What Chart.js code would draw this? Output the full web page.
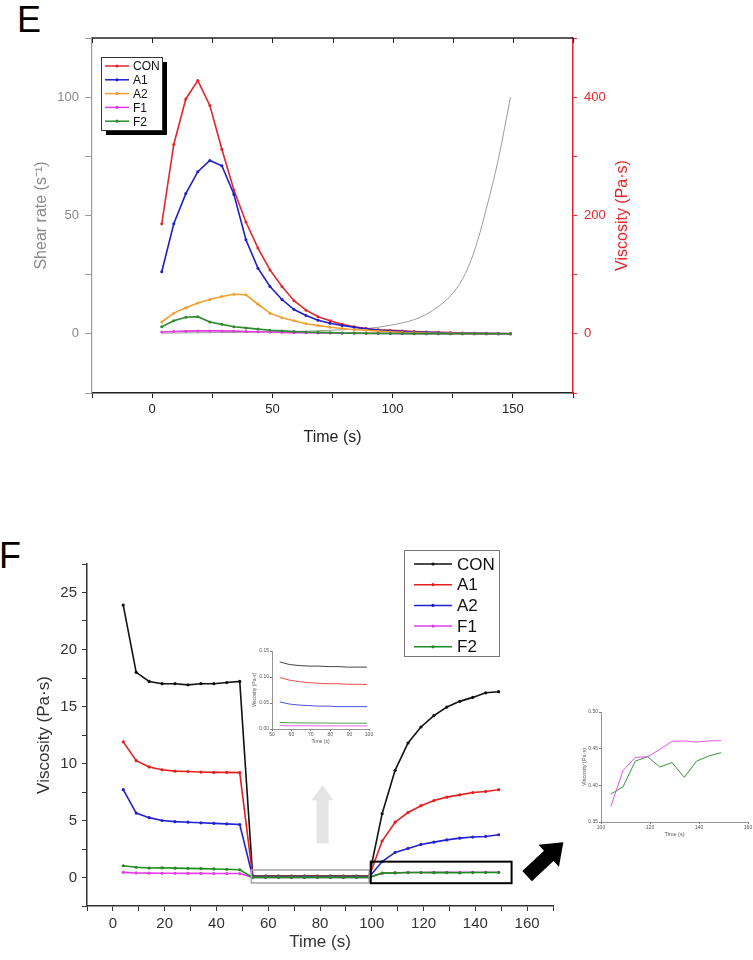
<!DOCTYPE html>
<html>
<head>
<meta charset="utf-8">
<script src="https://cdn.jsdelivr.net/npm/chart.js@4.4.1/dist/chart.umd.min.js"></script>
<style>
  html, body { margin: 0; padding: 0; background: #fff; overflow: hidden; }
  body { width: 753px; height: 960px; position: relative; font-family: "Liberation Sans", Arial, sans-serif; }
  canvas { position: absolute; }
  .panel { position: absolute; font-size: 36px; line-height: 1; color: #000; }
</style>
</head>
<body>
<div class="panel" style="left:17px;top:2px">E</div>
<div class="panel" style="left:-1px;top:538px">F</div>
<canvas id="chartE" width="753" height="460" style="left:0;top:0"></canvas>
<canvas id="chartF" width="753" height="460" style="left:0;top:500px"></canvas>
<canvas id="insetMid" width="140" height="110" style="left:245px;top:640px"></canvas>
<canvas id="insetRight" width="200" height="145" style="left:570px;top:700px"></canvas>
<script>
const seriesNames = ['CON', 'A1', 'A2', 'F1', 'F2'];

// --- panel E : viscosity (right axis) and shear rate (left axis) vs time
const eTime = [4, 9, 14, 19, 24, 29, 34, 39, 44, 49, 54, 59, 64, 69, 74, 79, 84, 89, 94, 99, 104, 109, 114, 119, 124, 129, 134, 139, 144, 149];
const eShearRate = [0.3, 0.35, 0.4, 0.45, 0.5, 0.55, 0.6, 0.65, 0.7, 0.8, 0.9, 1.0, 1.1, 1.3, 1.5, 1.7, 1.9, 2.2, 2.8, 3.6, 4.6, 6.0, 8.2, 11.5, 16, 23, 35, 53, 74, 100];
const eCON = [186, 320, 397, 428, 386, 312, 243, 189, 145, 108, 80, 56, 40, 29, 22, 16, 12, 9, 7, 6, 5, 4, 3, 2.5, 2, 1.5, 1, 0.8, 0.5, 0.3];
const eA1 = [105, 186, 237, 274, 293, 284, 236, 159, 111, 80, 58, 41, 31, 23, 18, 14, 11, 8.5, 6, 5, 4, 3, 2.5, 2, 1.5, 1, 0.8, 0.5, 0.3, 0.2];
const eA2 = [20, 35, 44, 52, 58, 63, 67, 66, 50, 35, 27, 22, 17, 14, 11, 9, 7, 6, 4.5, 3.5, 2.5, 2, 1.5, 1, 0.8, 0.5, 0.3, 0.2, 0.1, 0.1];
const eF1 = [3, 4, 4.5, 5, 5, 5, 4.5, 4, 3.5, 3, 2.5, 2, 2, 1.5, 1.5, 1, 1, 0.8, 0.6, 0.5, 0.4, 0.3, 0.3, 0.2, 0.2, 0.1, 0.1, 0.1, 0.1, 0.1];
const eF2 = [12, 22, 28, 29, 20, 16, 12, 10, 8, 6, 5, 4, 3, 2.5, 2, 1.5, 1.2, 1, 0.8, 0.6, 0.5, 0.4, 0.3, 0.3, 0.2, 0.2, 0.2, 0.1, 0.1, 0.1];
const eTimeLabels = [0, 50, 100, 150];
const eShearLabels = [0, 50, 100];
const eViscLabels = [0, 200, 400];

// --- panel F : viscosity in three intervals
const fTime = [4, 9, 14, 19, 24, 29, 34, 39, 44, 49, 54, 59, 64, 69, 74, 79, 84, 89, 94, 99, 104, 109, 114, 119, 124, 129, 134, 139, 144, 149];
const fCON = [23.9, 18.0, 17.2, 17.0, 17.0, 16.9, 17.0, 17.0, 17.1, 17.2, 0.129, 0.124, 0.122, 0.121, 0.121, 0.120, 0.120, 0.119, 0.119, 0.119, 5.6, 9.4, 11.8, 13.2, 14.2, 14.95, 15.45, 15.8, 16.2, 16.3];
const fA1 = [11.9, 10.25, 9.7, 9.45, 9.33, 9.3, 9.25, 9.22, 9.22, 9.2, 0.099, 0.094, 0.091, 0.089, 0.088, 0.087, 0.087, 0.086, 0.086, 0.0855, 3.2, 4.85, 5.7, 6.3, 6.75, 7.05, 7.25, 7.45, 7.55, 7.7];
const fA2 = [7.7, 5.65, 5.25, 5.0, 4.9, 4.85, 4.8, 4.75, 4.7, 4.65, 0.052, 0.048, 0.046, 0.045, 0.044, 0.044, 0.043, 0.043, 0.043, 0.043, 1.4, 2.2, 2.55, 2.9, 3.1, 3.3, 3.45, 3.55, 3.6, 3.75];
const fF1 = [0.45, 0.4, 0.38, 0.37, 0.37, 0.36, 0.36, 0.35, 0.35, 0.35, 0.0065, 0.0063, 0.0062, 0.0062, 0.0061, 0.0061, 0.006, 0.006, 0.006, 0.006, 0.371, 0.4205, 0.438, 0.439, 0.449, 0.460, 0.4605, 0.459, 0.4605, 0.461];
const fF2 = [1.03, 0.9, 0.83, 0.85, 0.82, 0.8, 0.78, 0.75, 0.72, 0.68, 0.0125, 0.012, 0.0118, 0.0116, 0.0115, 0.0114, 0.0113, 0.0112, 0.0112, 0.0111, 0.388, 0.398, 0.433, 0.439, 0.425, 0.431, 0.411, 0.433, 0.440, 0.4445];
const fTimeLabels = [0, 20, 40, 60, 80, 100, 120, 140, 160];
const fViscLabels = [0, 5, 10, 15, 20, 25];
const midTimeLabels = [50, 60, 70, 80, 90, 100];
const midViscLabels = [0, 0.05, 0.10, 0.15];
const rightTimeLabels = [100, 120, 140, 160];
const rightViscLabels = [0.35, 0.40, 0.45, 0.50];

// zoom boxes and arrows on panel F, in data units
const grayBox = { t0: 53.5, t1: 99, v0: 0.66, v1: -0.48 };
const blackBox = { t0: 99.6, t1: 154, v0: 1.39, v1: -0.5 };
const grayArrow = { t0: 81, v0: 3.0, t1: 81, v1: 8.1 };
const blackArrow = { t0: 160, v0: 0.13, t1: 174, v1: 3.1 };

const FONT = '"Liberation Sans", Arial, sans-serif';
Chart.defaults.font.family = FONT;
Chart.defaults.animation = false;

const eColors = { CON: '#e3262b', A1: '#1f1fc8', A2: '#f0a030', F1: '#e03ce0', F2: '#2e8b2e' };
const fColors = { CON: '#111111', A1: '#e4201f', A2: '#2222d0', F1: '#e23fe6', F2: '#1e8c1e' };
const eVisc = { CON: eCON, A1: eA1, A2: eA2, F1: eF1, F2: eF2 };
const fVisc = { CON: fCON, A1: fA1, A2: fA2, F1: fF1, F2: fF2 };

function pts(times, values, from = 0, to = times.length) {
    const out = [];
    for (let i = from; i < to; i++) out.push({ x: times[i], y: values[i] });
    return out;
}

// show a label only where the value is in the list
function onlyLabels(list, digits) {
    return v => {
        const hit = list.find(l => Math.abs(l - v) < 1e-7);
        if (hit === undefined) return '';
        return digits ? hit.toFixed(digits) : String(hit);
    };
}

const boxLegend = {
    id: 'boxLegend',
    afterDraw(chart, args, o) {
        if (!o || !o.w) return;
        const ctx = chart.ctx;
        ctx.save();
        if (o.shadow) {
            ctx.fillStyle = '#000';
            ctx.fillRect(o.x + o.shadow, o.y + o.shadow, o.w, o.h);
        }
        ctx.fillStyle = '#fff';
        ctx.fillRect(o.x, o.y, o.w, o.h);
        ctx.strokeStyle = o.border;
        ctx.lineWidth = 1;
        ctx.strokeRect(o.x + 0.5, o.y + 0.5, o.w, o.h);
        ctx.font = o.fontSize + 'px ' + FONT;
        ctx.textBaseline = 'middle';
        ctx.textAlign = 'left';
        seriesNames.forEach((name, i) => {
            const ds = chart.data.datasets.find(d => d.label === name);
            const y = o.y + o.firstRow + i * o.rowH;
            const x0 = o.x + o.lineStart;
            ctx.strokeStyle = ds.borderColor;
            ctx.lineWidth = 1.5;
            ctx.beginPath();
            ctx.moveTo(x0, y);
            ctx.lineTo(x0 + o.lineLen, y);
            ctx.stroke();
            ctx.fillStyle = ds.borderColor;
            ctx.beginPath();
            ctx.arc(x0 + o.lineLen / 2, y, 1.6, 0, Math.PI * 2);
            ctx.fill();
            ctx.fillStyle = '#111';
            ctx.fillText(name, o.x + o.textX, y + 1);
        });
        ctx.restore();
    },
};

// top axis with inner ticks and the right-hand title of panel E
const frameE = {
    id: 'frameE',
    afterDraw(chart) {
        const { ctx, chartArea: a, scales } = chart;
        ctx.save();
        ctx.strokeStyle = '#222';
        ctx.lineWidth = 1.5;
        ctx.beginPath();
        ctx.moveTo(a.left, a.top);
        ctx.lineTo(a.right, a.top);
        ctx.stroke();
        ctx.lineWidth = 1;
        scales.x.ticks.forEach(t => {
            const px = Math.round(scales.x.getPixelForValue(t.value)) + 0.5;
            ctx.beginPath();
            ctx.moveTo(px, a.top);
            ctx.lineTo(px, a.top + 5);
            ctx.stroke();
        });
        ctx.translate(a.right + 50, (a.top + a.bottom) / 2);
        ctx.rotate(-Math.PI / 2);
        ctx.fillStyle = eColors.CON;
        ctx.font = '16px ' + FONT;
        ctx.textAlign = 'center';
        ctx.textBaseline = 'middle';
        ctx.fillText('Viscosity (Pa·s)', 0, 0);
        ctx.restore();
    },
};

function drawArrow(ctx, x0, y0, x1, y1, shaftW, headW, headL, color) {
    const len = Math.hypot(x1 - x0, y1 - y0);
    const ux = (x1 - x0) / len, uy = (y1 - y0) / len;
    const nx = -uy, ny = ux;
    const bx = x1 - ux * headL, by = y1 - uy * headL;
    ctx.fillStyle = color;
    ctx.beginPath();
    ctx.moveTo(x0 + nx * shaftW / 2, y0 + ny * shaftW / 2);
    ctx.lineTo(bx + nx * shaftW / 2, by + ny * shaftW / 2);
    ctx.lineTo(bx + nx * headW / 2, by + ny * headW / 2);
    ctx.lineTo(x1, y1);
    ctx.lineTo(bx - nx * headW / 2, by - ny * headW / 2);
    ctx.lineTo(bx - nx * shaftW / 2, by - ny * shaftW / 2);
    ctx.lineTo(x0 - nx * shaftW / 2, y0 - ny * shaftW / 2);
    ctx.closePath();
    ctx.fill();
}

const markupF = {
    id: 'markupF',
    afterDatasetsDraw(chart) {
        const { ctx, scales: { x, y } } = chart;
        ctx.save();
        const rect = (b, color, lw) => {
            const x0 = x.getPixelForValue(b.t0), x1 = x.getPixelForValue(b.t1);
            const y0 = y.getPixelForValue(b.v0), y1 = y.getPixelForValue(b.v1);
            ctx.strokeStyle = color;
            ctx.lineWidth = lw;
            ctx.strokeRect(x0, y0, x1 - x0, y1 - y0);
        };
        rect(grayBox, '#a8a8a8', 1.6);
        rect(blackBox, '#000', 2);
        const arrow = (r, shaftW, headW, headL, color) => drawArrow(ctx,
            x.getPixelForValue(r.t0), y.getPixelForValue(r.v0),
            x.getPixelForValue(r.t1), y.getPixelForValue(r.v1), shaftW, headW, headL, color);
        arrow(grayArrow, 12, 22, 15, '#e4e4e4');
        arrow(blackArrow, 14, 30, 20, '#000');
        ctx.restore();
    },
};

function tickAxis(opts) {
    return {
        type: 'linear',
        position: opts.position,
        min: opts.min,
        max: opts.max,
        afterFit: s => { if (opts.width) s.width = opts.width; if (opts.height) s.height = opts.height; },
        ticks: {
            stepSize: opts.step,
            autoSkip: false,
            maxRotation: 0,
            padding: opts.pad,
            color: opts.color,
            font: { size: opts.fontSize },
            callback: onlyLabels(opts.labels, opts.digits),
        },
        grid: { drawOnChartArea: false, drawTicks: true, tickLength: opts.tick, color: opts.line, lineWidth: 1 },
        border: { display: true, color: opts.line, width: opts.lineWidth || 1.5 },
        title: opts.title ? {
            display: true, text: opts.title, color: opts.color,
            font: { size: opts.titleSize }, padding: opts.titlePad,
        } : { display: false },
    };
}

// ---------- chart E
const eDatasets = seriesNames.map((name, i) => ({
    label: name,
    data: pts(eTime, eVisc[name]),
    yAxisID: 'yV',
    borderColor: eColors[name],
    backgroundColor: eColors[name],
    borderWidth: 1.6,
    pointRadius: 1.5,
    pointBorderWidth: 0,
    order: seriesNames.length - 1 - i,
}));
eDatasets.push({
    label: 'Shear rate',
    data: pts(eTime, eShearRate),
    yAxisID: 'yS',
    borderColor: '#9a9a9a',
    borderWidth: 1,
    pointRadius: 0,
    cubicInterpolationMode: 'monotone',
    order: 10,
});

new Chart(document.getElementById('chartE'), {
    type: 'line',
    data: { datasets: eDatasets },
    options: {
        responsive: false,
        layout: { padding: { top: 38, left: 0, right: 0, bottom: 0 } },
        plugins: {
            legend: { display: false },
            tooltip: { enabled: false },
            boxLegend: { x: 101, y: 57, w: 61, h: 73, shadow: 5, border: '#333', firstRow: 9, rowH: 13.8, lineStart: 4, lineLen: 24, textX: 32, fontSize: 12 },
        },
        scales: {
            x: tickAxis({ position: 'bottom', min: -25, max: 175, step: 25, labels: eTimeLabels, color: '#222', line: '#222',
                fontSize: 13, tick: 5, pad: 4, height: 67, title: 'Time (s)', titleSize: 16, titlePad: { bottom: 13 } }),
            yS: tickAxis({ position: 'left', min: -25, max: 125, step: 25, labels: eShearLabels, color: '#8a8a8a', line: '#9a9a9a',
                lineWidth: 1.2, fontSize: 13, tick: 7, pad: 6, width: 92, title: 'Shear rate (s⁻¹)', titleSize: 16, titlePad: { top: 32 } }),
            yV: tickAxis({ position: 'right', min: -100, max: 500, step: 100, labels: eViscLabels, color: eColors.CON, line: eColors.CON,
                fontSize: 13, tick: 4, pad: 7, width: 180 }),
        },
    },
    plugins: [boxLegend, frameE],
});

// ---------- chart F
const fDatasets = seriesNames.map((name, i) => ({
    label: name,
    data: pts(fTime, fVisc[name]),
    borderColor: fColors[name],
    backgroundColor: fColors[name],
    borderWidth: 1.6,
    pointRadius: 1.6,
    pointBorderWidth: 0,
    order: seriesNames.length - 1 - i,
}));

new Chart(document.getElementById('chartF'), {
    type: 'line',
    data: { datasets: fDatasets },
    options: {
        responsive: false,
        layout: { padding: { top: 64, left: 0, right: 200, bottom: 0 } },
        plugins: {
            legend: { display: false },
            tooltip: { enabled: false },
            boxLegend: { x: 404, y: 50, w: 95, h: 106, shadow: 0, border: '#777', firstRow: 14, rowH: 20.7, lineStart: 10, lineLen: 38, textX: 53, fontSize: 17 },
        },
        scales: {
            x: tickAxis({ position: 'bottom', min: -10, max: 170, step: 10, labels: fTimeLabels, color: '#333', line: '#333',
                fontSize: 15, tick: 5, pad: 4, height: 54, title: 'Time (s)', titleSize: 17, titlePad: { bottom: 7 } }),
            y: tickAxis({ position: 'left', min: -2.5, max: 27.5, step: 2.5, labels: fViscLabels, color: '#333', line: '#333',
                fontSize: 15, tick: 5, pad: 5, width: 87, title: 'Viscosity (Pa·s)', titleSize: 17, titlePad: { top: 34 } }),
        },
    },
    plugins: [boxLegend, markupF],
});

// ---------- inset: low-viscosity interval 54-99 s
new Chart(document.getElementById('insetMid'), {
    type: 'line',
    data: {
        datasets: seriesNames.map(name => ({
            label: name,
            data: pts(fTime, fVisc[name], 10, 20),
            borderColor: fColors[name],
            borderWidth: 0.8,
            pointRadius: 0,
        })),
    },
    options: {
        responsive: false,
        layout: { padding: { top: 11, left: 0, right: 16, bottom: 0 } },
        plugins: { legend: { display: false }, tooltip: { enabled: false } },
        scales: {
            x: tickAxis({ position: 'bottom', min: 50, max: 100, step: 10, labels: midTimeLabels, color: '#555', line: '#777',
                lineWidth: 0.8, fontSize: 5, tick: 2, pad: 1, height: 21, title: 'Time (s)', titleSize: 5, titlePad: { bottom: 5 } }),
            y: tickAxis({ position: 'left', min: 0, max: 0.15, step: 0.05, labels: midViscLabels, digits: 2, color: '#555', line: '#777',
                lineWidth: 0.8, fontSize: 5, tick: 2, pad: 1, width: 27, title: 'Viscosity (Pa·s)', titleSize: 5, titlePad: { top: 7 } }),
        },
    },
});

// ---------- inset: F1 and F2 recovery 104-149 s
new Chart(document.getElementById('insetRight'), {
    type: 'line',
    data: {
        datasets: ['F1', 'F2'].map(name => ({
            label: name,
            data: pts(fTime, fVisc[name], 20, 30),
            borderColor: fColors[name],
            borderWidth: 0.9,
            pointRadius: 0,
        })),
    },
    options: {
        responsive: false,
        layout: { padding: { top: 12, left: 0, right: 22, bottom: 0 } },
        plugins: { legend: { display: false }, tooltip: { enabled: false } },
        scales: {
            x: tickAxis({ position: 'bottom', min: 100, max: 160, step: 20, labels: rightTimeLabels, color: '#555', line: '#777',
                lineWidth: 0.8, fontSize: 5, tick: 2, pad: 1, height: 23, title: 'Time (s)', titleSize: 5.5, titlePad: { bottom: 7 } }),
            y: tickAxis({ position: 'left', min: 0.35, max: 0.50, step: 0.05, labels: rightViscLabels, digits: 2, color: '#555', line: '#777',
                lineWidth: 0.8, fontSize: 5, tick: 2, pad: 1, width: 31, title: 'Viscosity (Pa·s)', titleSize: 5.5, titlePad: { top: 11 } }),
        },
    },
});
</script>
</body>
</html>
